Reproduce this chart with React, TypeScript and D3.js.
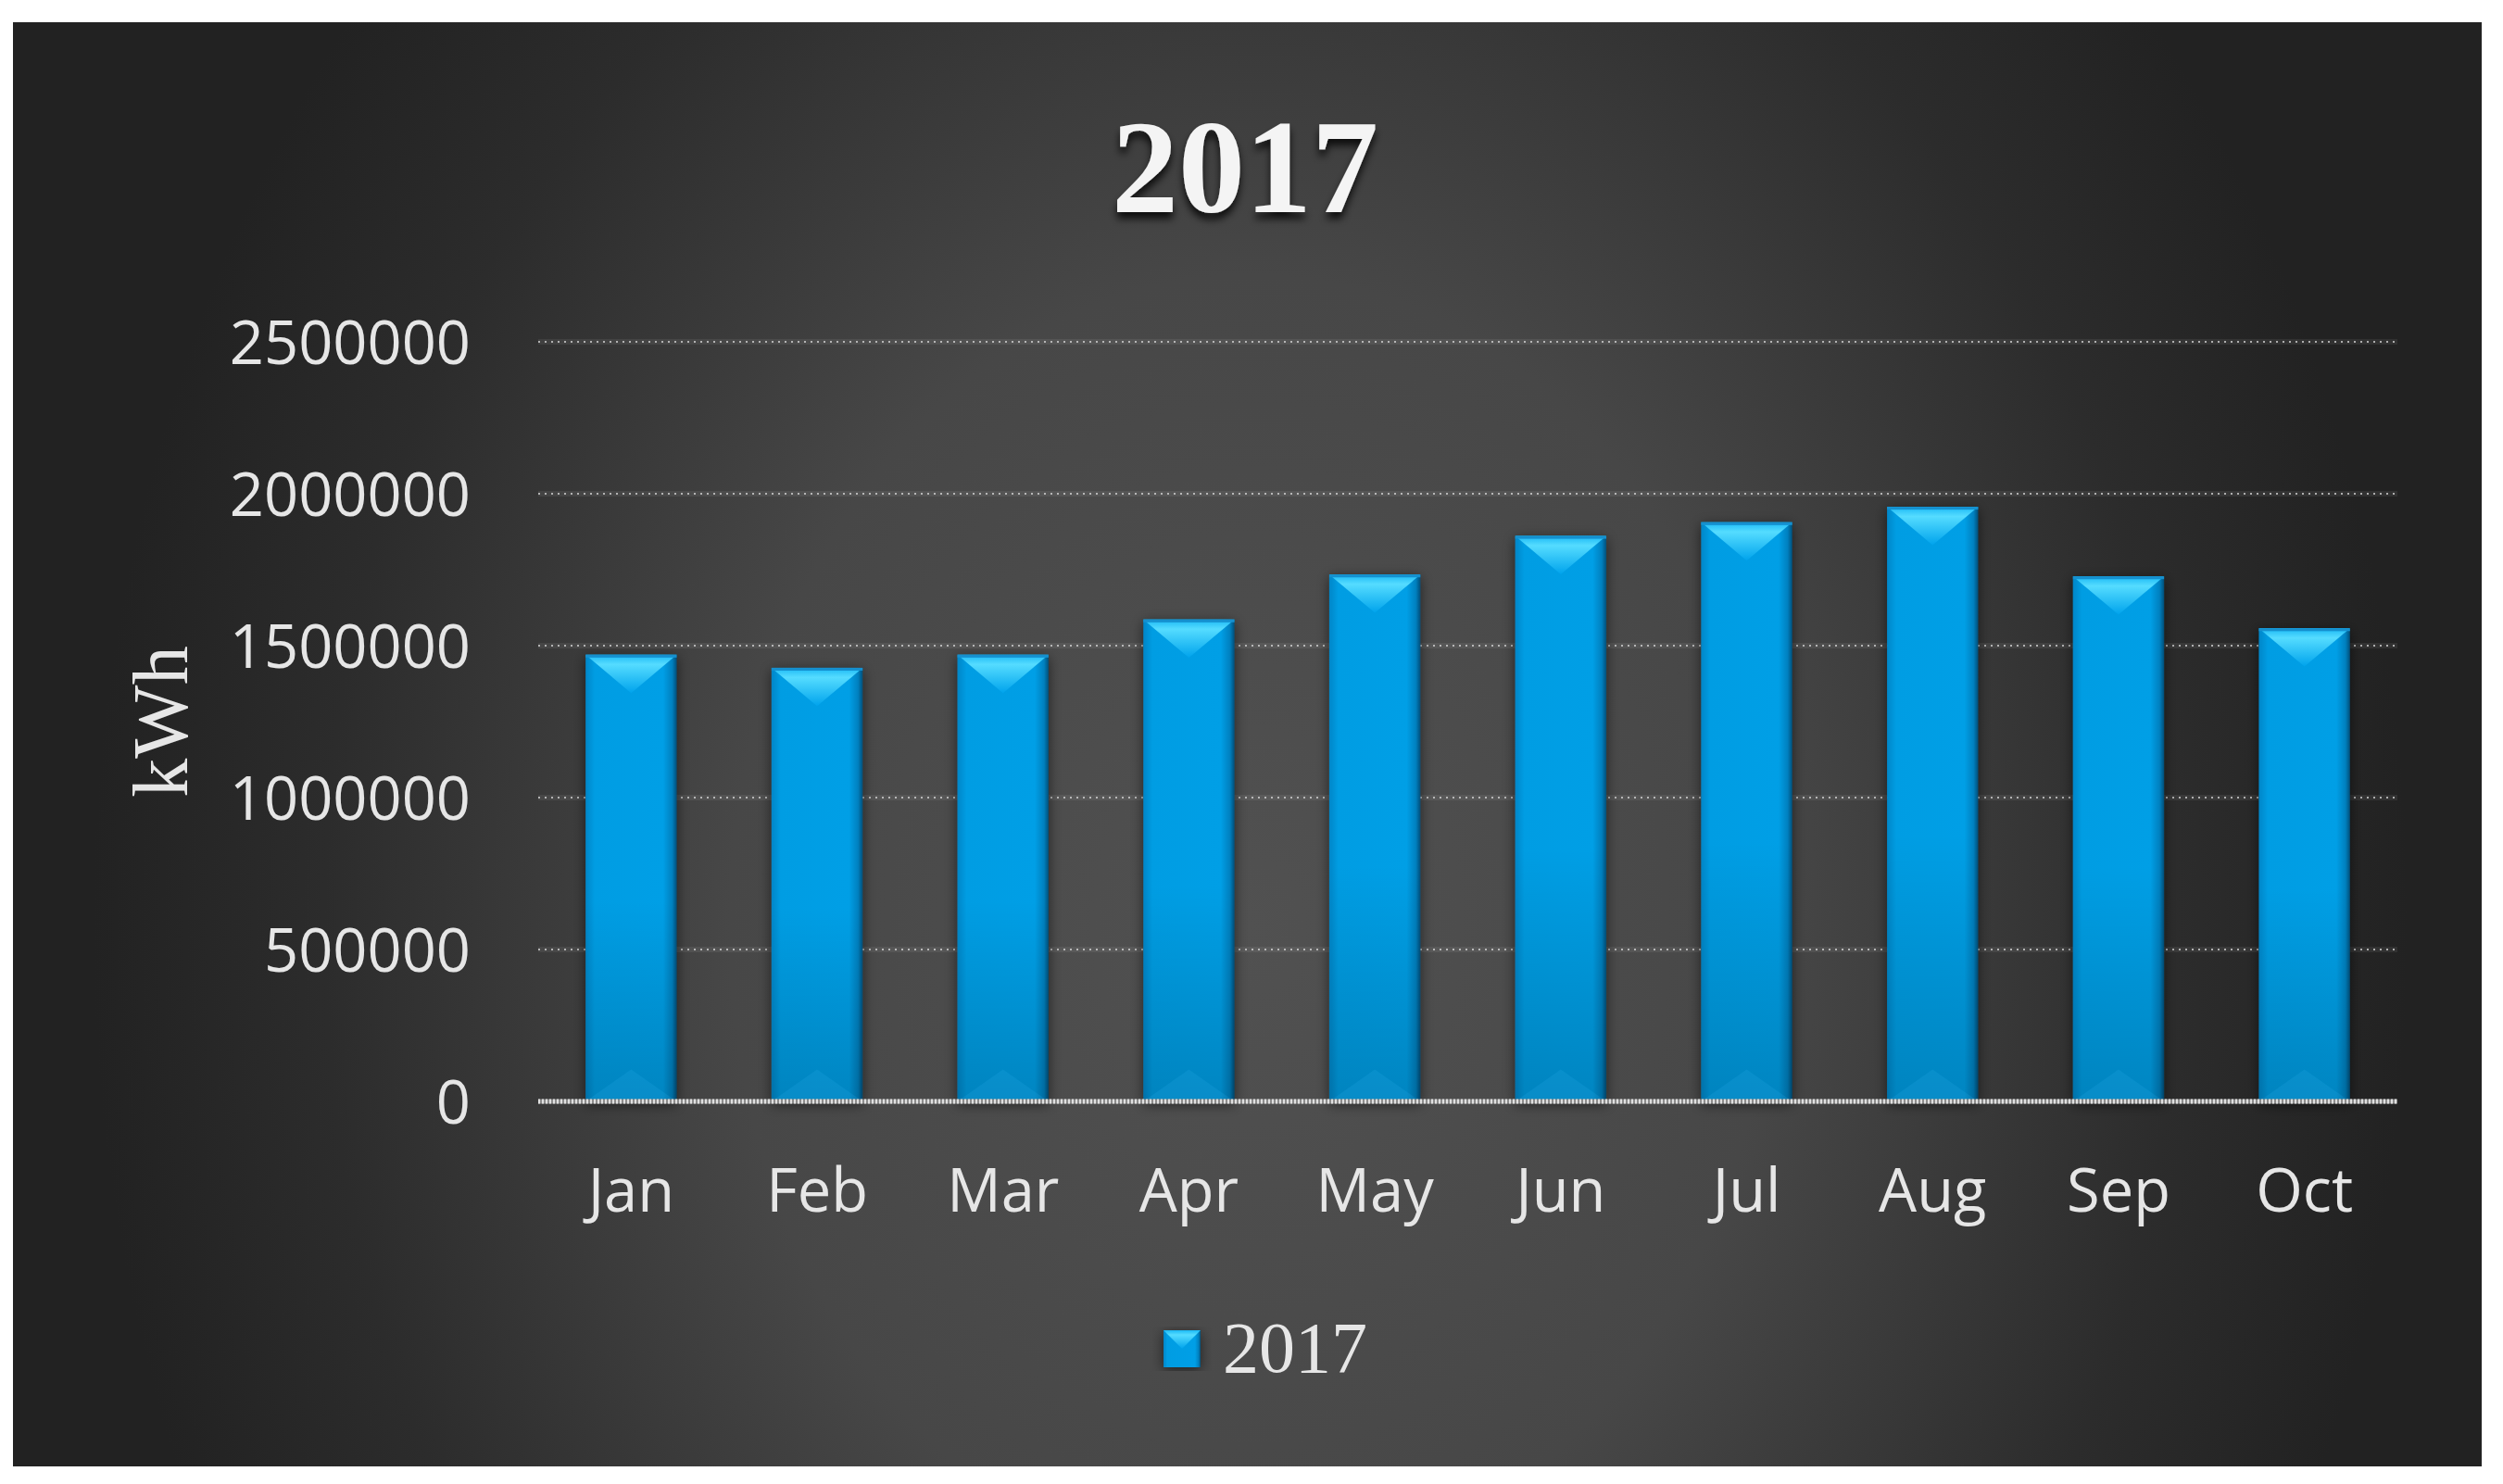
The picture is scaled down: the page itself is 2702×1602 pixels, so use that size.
import React, { useEffect, useRef } from 'react';
import { scaleBand, scaleLinear, select } from 'd3';

const months = ['Jan', 'Feb', 'Mar', 'Apr', 'May', 'Jun', 'Jul', 'Aug', 'Sep', 'Oct'];
const kwh2017 = [1470000, 1427000, 1470000, 1586000, 1734000, 1861000, 1906000, 1957000, 1728000, 1557000];
const yTicks = [0, 500000, 1000000, 1500000, 2000000, 2500000];
const seriesName = '2017';

const W = 2702;
const H = 1602;

const App = () => {
  const svgRef = useRef<SVGSVGElement>(null);

  useEffect(() => {
    const svg = select(svgRef.current);
    svg.selectAll('*').remove();

    const x = scaleBand<string>()
      .domain(months)
      .range([581, 2588])
      .paddingInner(0.51)
      .paddingOuter(0.255);

    const y = scaleLinear()
      .domain([0, 2500000])
      .range([1189, 369]);

    const defs = svg.append('defs');

    // panel background: lighter in the middle, dark edges
    const bg = defs.append('radialGradient')
      .attr('id', 'bg')
      .attr('gradientUnits', 'userSpaceOnUse')
      .attr('cx', 1350).attr('cy', 1000).attr('r', 1250)
      .attr('gradientTransform', 'translate(1350 1000) scale(1 1.25) translate(-1350 -1000)');
    bg.append('stop').attr('offset', 0).attr('stop-color', '#515151');
    bg.append('stop').attr('offset', 0.45).attr('stop-color', '#474747');
    bg.append('stop').attr('offset', 0.8).attr('stop-color', '#2c2c2c');
    bg.append('stop').attr('offset', 1).attr('stop-color', '#222');

    // bar body: darker sides
    const body = defs.append('linearGradient').attr('id', 'barBody')
      .attr('x1', 0).attr('x2', 1).attr('y1', 0).attr('y2', 0);
    body.append('stop').attr('offset', 0).attr('stop-color', '#0086c8');
    body.append('stop').attr('offset', 0.1).attr('stop-color', '#009de3');
    body.append('stop').attr('offset', 0.85).attr('stop-color', '#009fe6');
    body.append('stop').attr('offset', 0.95).attr('stop-color', '#0080bf');
    body.append('stop').attr('offset', 1).attr('stop-color', '#004f7a');

    // lower part of bar fades darker
    const shade = defs.append('linearGradient').attr('id', 'barShade')
      .attr('x1', 0).attr('x2', 0).attr('y1', 0).attr('y2', 1);
    shade.append('stop').attr('offset', 0).attr('stop-color', '#000').attr('stop-opacity', 0);
    shade.append('stop').attr('offset', 0.55).attr('stop-color', '#000').attr('stop-opacity', 0);
    shade.append('stop').attr('offset', 1).attr('stop-color', '#000').attr('stop-opacity', 0.16);

    // bevel on the top
    const bevel = defs.append('linearGradient').attr('id', 'bevel')
      .attr('x1', 0).attr('x2', 0).attr('y1', 0).attr('y2', 1);
    bevel.append('stop').attr('offset', 0).attr('stop-color', '#1ab8f5');
    bevel.append('stop').attr('offset', 0.25).attr('stop-color', '#55dcff');
    bevel.append('stop').attr('offset', 1).attr('stop-color', '#00a3ec');

    const shadow = defs.append('filter').attr('id', 'barShadow')
      .attr('x', '-30%').attr('y', '-10%').attr('width', '160%').attr('height', '120%');
    shadow.append('feDropShadow')
      .attr('dx', 0).attr('dy', 3).attr('stdDeviation', 7)
      .attr('flood-color', '#000').attr('flood-opacity', 0.55);

    const titleShadow = defs.append('filter').attr('id', 'titleShadow')
      .attr('x', '-20%').attr('y', '-20%').attr('width', '140%').attr('height', '160%');
    titleShadow.append('feDropShadow')
      .attr('dx', 0).attr('dy', 7).attr('stdDeviation', 4)
      .attr('flood-color', '#000').attr('flood-opacity', 0.8);

    svg.append('rect').attr('width', W).attr('height', H).attr('fill', '#fff');
    svg.append('rect')
      .attr('x', 14).attr('y', 24).attr('width', 2665).attr('height', 1559)
      .attr('fill', 'url(#bg)');

    // title
    svg.append('text')
      .attr('x', 1344).attr('y', 229)
      .attr('text-anchor', 'middle')
      .attr('font-family', '"Liberation Serif", serif')
      .attr('font-weight', 'bold')
      .attr('font-size', 144)
      .attr('fill', '#f4f4f4')
      .attr('filter', 'url(#titleShadow)')
      .text(seriesName);

    // gridlines
    const [x0, x1] = x.range();
    const grid = svg.append('g');
    grid.selectAll('line.faint')
      .data(yTicks.filter(d => d > 0))
      .join('line')
      .attr('class', 'faint')
      .attr('x1', x0).attr('x2', x1)
      .attr('y1', d => y(d)).attr('y2', d => y(d))
      .attr('stroke', '#fff').attr('stroke-opacity', 0.07).attr('stroke-width', 6);
    grid.selectAll('line.dot')
      .data(yTicks.filter(d => d > 0))
      .join('line')
      .attr('class', 'dot')
      .attr('x1', x0).attr('x2', x1)
      .attr('y1', d => y(d)).attr('y2', d => y(d))
      .attr('stroke', '#d8d8d8').attr('stroke-opacity', 0.75)
      .attr('stroke-width', 2).attr('stroke-dasharray', '2 5');

    // y tick labels
    svg.append('g').selectAll('text')
      .data(yTicks)
      .join('text')
      .attr('x', 508)
      .attr('y', d => y(d) + 24)
      .attr('text-anchor', 'end')
      .attr('font-family', '"Open Sans", sans-serif')
      .attr('font-size', 65)
      .attr('fill', '#e6e6e6')
      .text(d => String(d));

    // y axis title
    svg.append('text')
      .attr('transform', 'translate(202 779) rotate(-90)')
      .attr('text-anchor', 'middle')
      .attr('font-family', '"Liberation Serif", serif')
      .attr('font-size', 84)
      .attr('fill', '#e6e6e6')
      .text('kWh');

    // bars
    const bw = x.bandwidth();
    const bars = svg.append('g').selectAll('g.bar')
      .data(months.map((m, i) => ({ m, v: kwh2017[i] })))
      .join('g')
      .attr('class', 'bar')
      .attr('transform', d => `translate(${x(d.m)}, ${y(d.v)})`);

    bars.append('rect')
      .attr('width', bw)
      .attr('height', d => y(0) - y(d.v))
      .attr('fill', 'url(#barBody)')
      .attr('filter', 'url(#barShadow)');
    bars.append('rect')
      .attr('width', bw)
      .attr('height', d => y(0) - y(d.v))
      .attr('fill', 'url(#barShade)');
    // bevel triangle at top
    bars.append('path')
      .attr('d', `M0,0 L${bw},0 L${bw / 2},${bw * 0.42} Z`)
      .attr('fill', 'url(#bevel)');
    bars.append('rect')
      .attr('width', bw).attr('height', 3)
      .attr('fill', '#1590cf');
    // faint bevel at bottom
    bars.append('path')
      .attr('d', d => {
        const h = y(0) - y(d.v);
        return `M0,${h} L${bw},${h} L${bw / 2},${h - bw * 0.35} Z`;
      })
      .attr('fill', '#2ab0f0').attr('fill-opacity', 0.18);

    // zero axis line
    svg.append('line')
      .attr('x1', x0).attr('x2', x1)
      .attr('y1', y(0)).attr('y2', y(0))
      .attr('stroke', '#8c8c8c').attr('stroke-width', 5);
    svg.append('line')
      .attr('x1', x0).attr('x2', x1)
      .attr('y1', y(0)).attr('y2', y(0))
      .attr('stroke', '#e0e0e0').attr('stroke-width', 5)
      .attr('stroke-dasharray', '2 2');

    // month labels
    svg.append('g').selectAll('text')
      .data(months)
      .join('text')
      .attr('x', d => (x(d) ?? 0) + bw / 2)
      .attr('y', 1308)
      .attr('text-anchor', 'middle')
      .attr('font-family', '"Open Sans", sans-serif')
      .attr('font-size', 65)
      .attr('fill', '#e6e6e6')
      .text(d => d);

    // legend
    const lg = svg.append('g').attr('transform', 'translate(1256, 1436)');
    lg.append('rect').attr('width', 40).attr('height', 40).attr('fill', 'url(#barBody)')
      .attr('filter', 'url(#barShadow)');
    lg.append('path').attr('d', 'M0,0 L40,0 L20,20 Z').attr('fill', 'url(#bevel)');
    lg.append('text')
      .attr('x', 64).attr('y', 45)
      .attr('font-family', '"Liberation Serif", serif')
      .attr('font-size', 78)
      .attr('fill', '#e6e6e6')
      .text(seriesName);
  }, []);

  return (
    <div style={{ position: 'absolute', left: 0, top: 0 }}>
      <svg width={W} height={H} ref={svgRef} style={{ display: 'block' }}></svg>
    </div>
  );
};

export default App;
